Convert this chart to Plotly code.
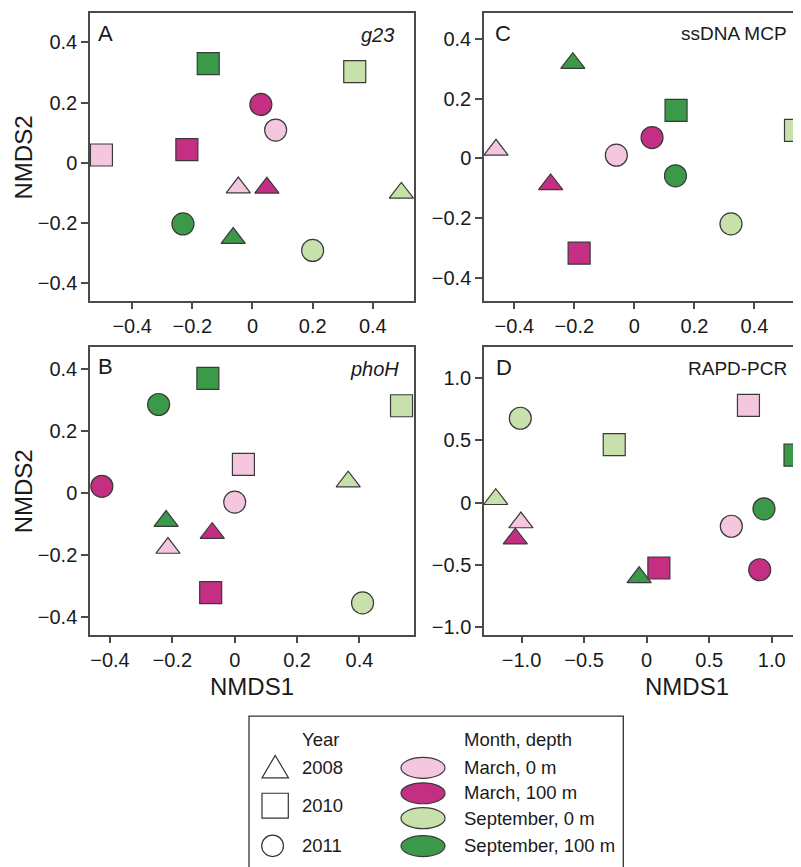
import plotly.graph_objects as go

W, H = 801, 867
OFF = 8  # page body margin of the html page

# ---------------- data ----------------
# groups: M0 = March 0 m, M100 = March 100 m, S0 = September 0 m, S100 = September 100 m
a_year = [2008, 2008, 2008, 2008, 2010, 2010, 2010, 2010, 2011, 2011, 2011, 2011]
a_group = ["M0", "M100", "S0", "S100", "M0", "M100", "S0", "S100", "M0", "M100", "S0", "S100"]
a_x = [-0.047, 0.048, 0.495, -0.064, -0.502, -0.218, 0.34, -0.147, 0.077, 0.028, 0.2, -0.231]
a_y = [-0.082, -0.083, -0.10, -0.25, 0.026, 0.044, 0.303, 0.33, 0.109, 0.194, -0.291, -0.203]

b_year = [2008, 2008, 2008, 2008, 2010, 2010, 2010, 2010, 2011, 2011, 2011, 2011]
b_group = ["M0", "M100", "S0", "S100", "M0", "M100", "S0", "S100", "M0", "M100", "S0", "S100"]
b_x = [-0.214, -0.072, 0.364, -0.22, 0.028, -0.077, 0.535, -0.086, 0.0, -0.426, 0.41, -0.244]
b_y = [-0.178, -0.13, 0.036, -0.091, 0.092, -0.322, 0.281, 0.369, -0.030, 0.021, -0.355, 0.285]

c_year = [2008, 2008, 2008, 2010, 2010, 2010, 2011, 2011, 2011, 2011]
c_group = ["M0", "M100", "S100", "M100", "S0", "S100", "M0", "M100", "S0", "S100"]
c_x = [-0.461, -0.279, -0.205, -0.184, 0.537, 0.139, -0.06, 0.059, 0.322, 0.137]
c_y = [0.029, -0.087, 0.319, -0.317, 0.094, 0.161, 0.011, 0.07, -0.219, -0.058]

d_year = [2008, 2008, 2008, 2008, 2010, 2010, 2010, 2010, 2011, 2011, 2011, 2011]
d_group = ["M0", "M100", "S0", "S100", "M0", "M100", "S0", "S100", "M0", "M100", "S0", "S100"]
d_x = [-1.005, -1.05, -1.206, -0.06, 0.814, 0.098, -0.259, 1.186, 0.677, 0.904, -1.01, 0.938]
d_y = [-0.16, -0.29, 0.027, -0.60, 0.781, -0.525, 0.466, 0.381, -0.19, -0.539, 0.677, -0.05]

tick_small = [-0.4, -0.2, 0, 0.2, 0.4]
tick_small_text = ["\u22120.4", "\u22120.2", "0", "0.2", "0.4"]
tick_big = [-1.0, -0.5, 0, 0.5, 1.0]
tick_big_text = ["\u22121.0", "\u22120.5", "0", "0.5", "1.0"]

years = [2008, 2010, 2011]
year_labels = ["2008", "2010", "2011"]
groups = ["M0", "M100", "S0", "S100"]
group_labels = ["March, 0 m", "March, 100 m", "September, 0 m", "September, 100 m"]

# ---------------- styles ----------------
colors = {"M0": "#f4c7df", "M100": "#c42f83", "S0": "#c8e1ac", "S100": "#3b994a"}
symbols = {2008: "triangle-up", 2010: "square", 2011: "circle"}
sizes = {2008: 21, 2010: 22, 2011: 22}
FONT = "Liberation Sans, Arial, sans-serif"
TXT = "#1a1a1a"
LINE = "#4a4a4a"


def px(x):
    return (x - OFF) / W


def py(y):
    return 1 - (y - OFF) / H


fig = go.Figure()

panels = [
    ("x", "y", a_x, a_y, a_year, a_group),
    ("x2", "y2", c_x, c_y, c_year, c_group),
    ("x3", "y3", b_x, b_y, b_year, b_group),
    ("x4", "y4", d_x, d_y, d_year, d_group),
]
for xa, ya, xs, ys, yr, gr in panels:
    fig.add_trace(go.Scatter(
        x=xs, y=ys, xaxis=xa, yaxis=ya, mode="markers", showlegend=False,
        marker=dict(
            symbol=[symbols[v] for v in yr],
            size=[sizes[v] for v in yr],
            color=[colors[g] for g in gr],
            opacity=1,
            line=dict(color="#3a3a3a", width=1.2),
        ),
        cliponaxis=True,
    ))

# domains (pixel based, page coordinates)
colA = [px(90), px(414)]
colC = [px(484), 1.0]          # right edge at page x = 809, outside the window
rowTop = [py(302), py(13)]
rowBot = [py(637.3), py(347.7)]

axis_common = dict(showline=True, linecolor=LINE, linewidth=1.5, ticks="outside",
                   tickcolor=LINE, tickwidth=1.5, showgrid=False, zeroline=False,
                   tickfont=dict(family=FONT, size=20, color=TXT))

fig.update_layout(
    width=W, height=H, margin=dict(l=0, r=0, t=0, b=0),
    paper_bgcolor="white", plot_bgcolor="white",
    font=dict(family=FONT, color=TXT),
    xaxis=dict(domain=colA, anchor="y", range=[-0.54, 0.537], tickvals=tick_small,
               ticktext=tick_small_text, mirror=True, ticklen=6, **axis_common),
    yaxis=dict(domain=rowTop, anchor="x", range=[-0.459, 0.498], tickvals=tick_small,
               ticktext=tick_small_text, mirror=True, ticklen=7, **axis_common),
    xaxis2=dict(domain=colC, anchor="y2", range=[-0.501, 0.582], tickvals=tick_small,
                ticktext=tick_small_text, mirror=True, ticklen=6, **axis_common),
    yaxis2=dict(domain=rowTop, anchor="x2", range=[-0.477, 0.487], tickvals=tick_small,
                ticktext=tick_small_text, mirror=False, ticklen=7, **axis_common),
    xaxis3=dict(domain=colA, anchor="y3", range=[-0.464, 0.575], tickvals=tick_small,
                ticktext=tick_small_text, mirror=True, ticklen=6, **axis_common),
    yaxis3=dict(domain=rowBot, anchor="x3", range=[-0.459, 0.472], tickvals=tick_small,
                ticktext=tick_small_text, mirror=True, ticklen=7, **axis_common),
    xaxis4=dict(domain=colC, anchor="y4", range=[-1.30, 1.298], tickvals=tick_big,
                ticktext=tick_big_text, mirror=True, ticklen=6, **axis_common),
    yaxis4=dict(domain=rowBot, anchor="x4", range=[-1.064, 1.253], tickvals=tick_big,
                ticktext=tick_big_text, mirror=False, ticklen=7, **axis_common),
)

ann = []


def text(x, y, s, size, xanchor="left", italic=False, angle=0):
    ann.append(dict(
        x=px(x), y=py(y), xref="paper", yref="paper", text=s, showarrow=False,
        xanchor=xanchor, yanchor="middle", textangle=angle,
        font=dict(family=FONT, size=size, color=TXT, style="italic" if italic else "normal"),
    ))


# panel letters and gene names
text(96, 34, "A", 22)
text(396, 35, "g23", 20, xanchor="right", italic=True)
text(493, 34, "C", 22)
text(789, 34, "ssDNA MCP", 19, xanchor="right")
text(96, 368, "B", 22)
text(401, 370, "phoH", 20, xanchor="right", italic=True)
text(494, 369, "D", 22)
text(789, 370, "RAPD-PCR", 19, xanchor="right")

# axis titles
text(23, 158, "NMDS2", 24, xanchor="center", angle=-90)
text(23, 493, "NMDS2", 24, xanchor="center", angle=-90)
text(252, 689, "NMDS1", 24, xanchor="center")
text(687, 689, "NMDS1", 24, xanchor="center")

# legend
shapes = []
shapes.append(dict(type="path", xref="paper", yref="paper",
                   path=f"M{px(249)},{py(880)} L{px(249)},{py(718.5)} L{px(623.3)},{py(718.5)} L{px(623.3)},{py(880)}",
                   line=dict(color="#333333", width=1.3)))

text(300, 742, "Year", 18.5)
year_rows = [770, 808, 848.5]
for yv, lab, cy in zip(years, year_labels, year_rows):
    text(300, cy, lab, 18.5)
    if symbols[yv] == "triangle-up":
        shapes.append(dict(type="path", xref="paper", yref="paper",
                           path=f"M{px(262)},{py(780.5)} L{px(288.5)},{py(780.5)} L{px(275.2)},{py(758)} Z",
                           line=dict(color="#333333", width=1.2), fillcolor="white"))
    elif symbols[yv] == "square":
        shapes.append(dict(type="rect", xref="paper", yref="paper",
                           x0=px(262), x1=px(288.3), y0=py(821), y1=py(796),
                           line=dict(color="#333333", width=1.2), fillcolor="white"))
    else:
        shapes.append(dict(type="circle", xref="paper", yref="paper",
                           x0=px(261.7), x1=px(283.5), y0=py(859.5), y1=py(838),
                           line=dict(color="#333333", width=1.2), fillcolor="white"))

text(461.5, 742.5, "Month, depth", 18.5)
ell_rows = [770.5, 796, 821, 849]
txt_rows = [770, 795.5, 821, 848]
for g, lab, cy, ty in zip(groups, group_labels, ell_rows, txt_rows):
    shapes.append(dict(type="circle", xref="paper", yref="paper",
                       x0=px(401), x1=px(445), y0=py(cy + 10.5), y1=py(cy - 10.5),
                       line=dict(color="#3a3a3a", width=1.2), fillcolor=colors[g]))
    text(461.5, ty, lab, 18.5)

fig.update_layout(annotations=ann, shapes=shapes)
fig.write_html("out.html")
